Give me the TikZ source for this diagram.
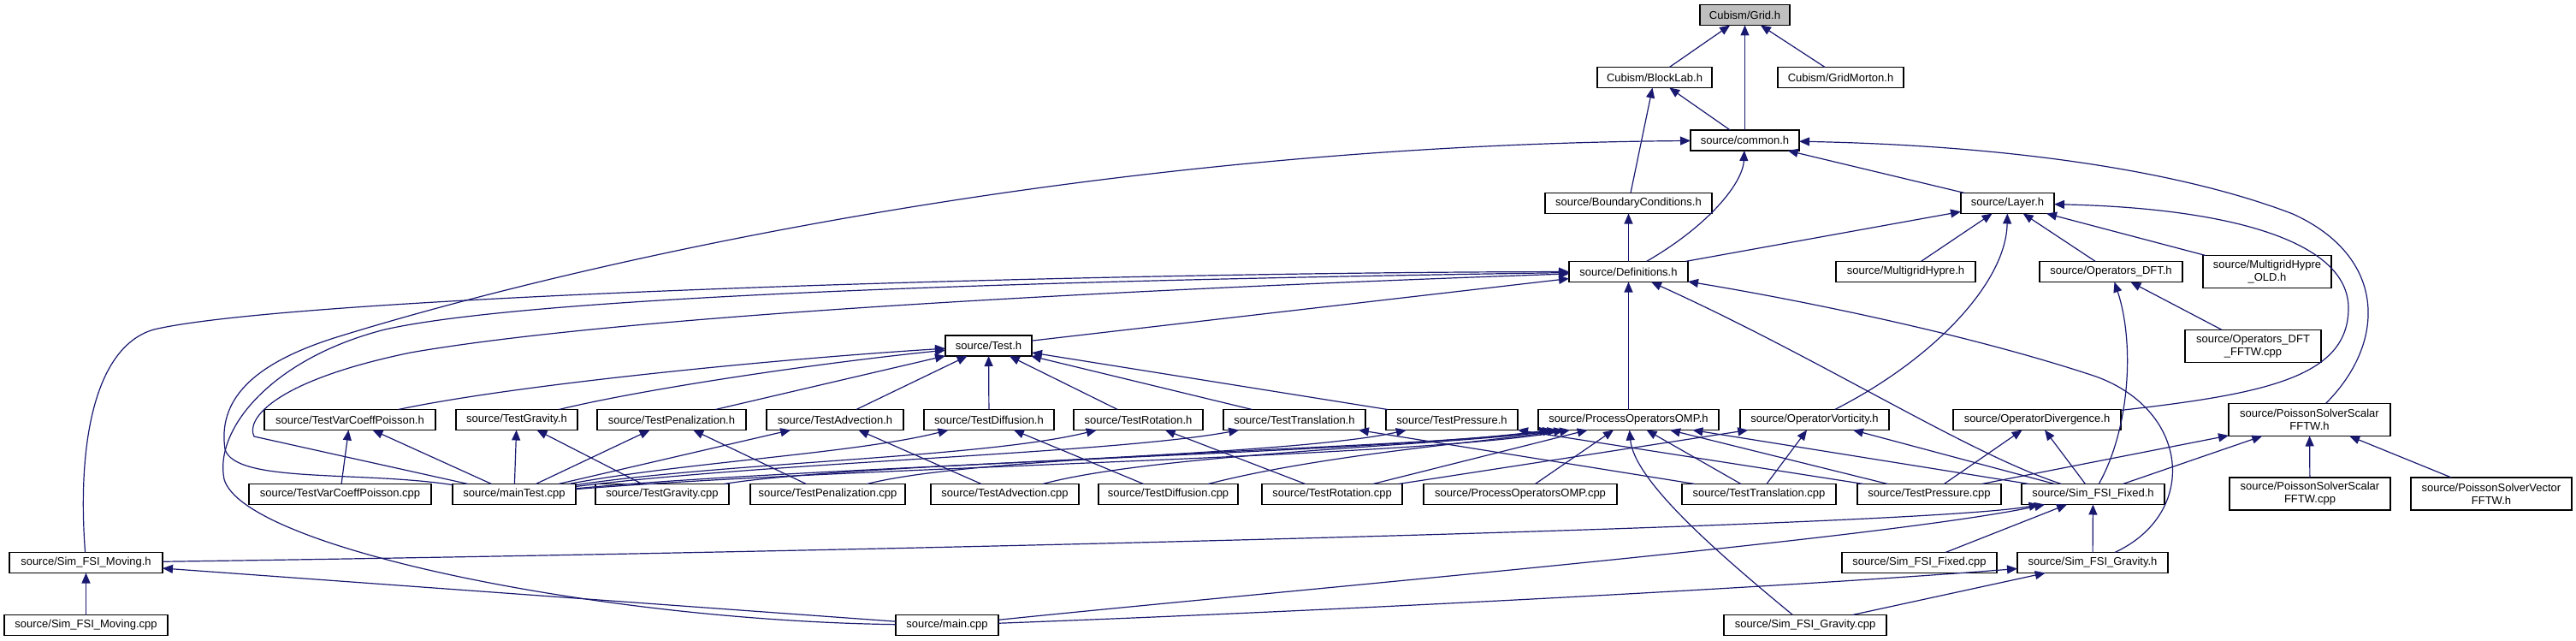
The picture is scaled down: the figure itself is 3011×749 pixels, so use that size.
\documentclass[tikz,border=0pt]{standalone}
\usepackage{fontspec}
\setmainfont{Liberation Sans}
\usetikzlibrary{arrows.meta}
\definecolor{edgecol}{RGB}{25,25,112}
\definecolor{gridfill}{RGB}{191,191,191}
\begin{document}
\begin{tikzpicture}[x=0.5pt,y=-0.5pt,
  box/.style={draw=black,line width=0.6pt,fill=white,inner sep=0pt,outer sep=0pt,align=center,
    font=\fontsize{6.5pt}{7.5pt}\selectfont,minimum height=12pt},
  tall/.style={minimum height=19pt},
  dep/.style={draw=edgecol,line width=0.6pt,-{Triangle[length=6pt,width=5pt]}}]
\useasboundingbox (0,0) rectangle (3011,749);
% row 0-5
\node[box,fill=gridfill,minimum width=52.5pt] (grid) at (2039.5,17.5) {Cubism/Grid.h};
\node[box,minimum width=67pt] (blocklab) at (1934,90.5) {Cubism/BlockLab.h};
\node[box,minimum width=73.5pt] (gridmorton) at (2151.5,90.5) {Cubism/GridMorton.h};
\node[box,minimum width=63.5pt] (common) at (2039.5,164) {source/common.h};
\node[box,minimum width=97.5pt] (boundary) at (1903.5,237.5) {source/BoundaryConditions.h};
\node[box,minimum width=54.5pt] (layer) at (2346.5,237.5) {source/Layer.h};
\node[box,minimum width=69.5pt] (defs) at (1903.5,317.5) {source/Definitions.h};
\node[box,minimum width=81.5pt] (mghypre) at (2227.5,317.5) {source/MultigridHypre.h};
\node[box,minimum width=83.5pt] (opdft) at (2467.5,317.5) {source/Operators\_DFT.h};
\node[box,tall,minimum width=75pt] (mgold) at (2650,317.5) {source/MultigridHypre\\\_OLD.h};
\node[box,minimum width=50.5pt] (test) at (1155.5,404) {source/Test.h};
\node[box,tall,minimum width=79.5pt] (opdftfftw) at (2633.5,404.5) {source/Operators\_DFT\\\_FFTW.cpp};
% row 6
\node[box,minimum width=100pt] (tvcph) at (409,490.5) {source/TestVarCoeffPoisson.h};
\node[box,minimum width=71pt] (tgravh) at (604,490.5) {source/TestGravity.h};
\node[box,minimum width=87pt] (tpenh) at (785,490.5) {source/TestPenalization.h};
\node[box,minimum width=80pt] (tadvh) at (976,490.5) {source/TestAdvection.h};
\node[box,minimum width=76pt] (tdiffh) at (1156,490.5) {source/TestDiffusion.h};
\node[box,minimum width=75.5pt] (troth) at (1330.5,490.5) {source/TestRotation.h};
\node[box,minimum width=83pt] (ttransh) at (1513,490.5) {source/TestTranslation.h};
\node[box,minimum width=77pt] (tpresh) at (1697,490.5) {source/TestPressure.h};
\node[box,minimum width=105.5pt] (procomph) at (1903.5,490.5) {source/ProcessOperatorsOMP.h};
\node[box,minimum width=87pt] (opvort) at (2121,490.5) {source/OperatorVorticity.h};
\node[box,minimum width=98pt] (opdiv) at (2381,490.5) {source/OperatorDivergence.h};
\node[box,tall,minimum width=94.5pt] (pssfh) at (2699.5,490.5) {source/PoissonSolverScalar\\FFTW.h};
% row 7
\node[box,minimum width=106.5pt] (tvcpcpp) at (397.5,577.5) {source/TestVarCoeffPoisson.cpp};
\node[box,minimum width=72pt] (maintest) at (601,577.5) {source/mainTest.cpp};
\node[box,minimum width=78pt] (tgravcpp) at (774,577.5) {source/TestGravity.cpp};
\node[box,minimum width=90.5pt] (tpencpp) at (967.5,577.5) {source/TestPenalization.cpp};
\node[box,minimum width=86.5pt] (tadvcpp) at (1174.5,577.5) {source/TestAdvection.cpp};
\node[box,minimum width=81.5pt] (tdiffcpp) at (1365.5,577.5) {source/TestDiffusion.cpp};
\node[box,minimum width=82pt] (trotcpp) at (1557,577.5) {source/TestRotation.cpp};
\node[box,minimum width=113pt] (procompcpp) at (1777,577.5) {source/ProcessOperatorsOMP.cpp};
\node[box,minimum width=90pt] (ttranscpp) at (2056,577.5) {source/TestTranslation.cpp};
\node[box,minimum width=84pt] (tprescpp) at (2255,577.5) {source/TestPressure.cpp};
\node[box,minimum width=83.5pt] (fixedh) at (2446.5,577.5) {source/Sim\_FSI\_Fixed.h};
\node[box,tall,minimum width=94pt] (pssfcpp) at (2700,577) {source/PoissonSolverScalar\\FFTW.cpp};
\node[box,tall,minimum width=94pt] (psvfh) at (2912,577) {source/PoissonSolverVector\\FFTW.h};
% row 8-9
\node[box,minimum width=89.5pt] (movingh) at (100.5,657.5) {source/Sim\_FSI\_Moving.h};
\node[box,minimum width=90.5pt] (fixedcpp) at (2243.5,657.5) {source/Sim\_FSI\_Fixed.cpp};
\node[box,minimum width=88pt] (gravityh) at (2446,657.5) {source/Sim\_FSI\_Gravity.h};
\node[box,minimum width=95.5pt] (movingcpp) at (100.5,730.5) {source/Sim\_FSI\_Moving.cpp};
\node[box,minimum width=60pt] (maincpp) at (1107,730.5) {source/main.cpp};
\node[box,minimum width=95pt] (gravitycpp) at (2110,730.5) {source/Sim\_FSI\_Gravity.cpp};

% top edges
\draw[dep] (blocklab) -- (grid);
\draw[dep] (common) -- (grid);
\draw[dep] (gridmorton) -- (grid);
\draw[dep] (common) -- (blocklab);
\draw[dep] (boundary) -- (blocklab);
\draw[dep] (defs) .. controls (1995,265) and (2037,215) .. (common);
\draw[dep] (layer) -- (common);
\draw[dep] (defs) -- (boundary);
\draw[dep] (defs) -- (layer);
\draw[dep] (mghypre) -- (layer);
\draw[dep] (opdft) -- (layer);
\draw[dep] (mgold) -- (layer);
\draw[dep] (opvort) .. controls (2260,420) and (2345,330) .. (layer);
\draw[dep] (opdiv) .. controls (2650,460) and (2745,440) .. (2745,360) .. controls (2745,280) and (2600,243) .. (layer);
\draw[dep] (pssfh) .. controls (2790,400) and (2790,300) .. (2680,250) .. controls (2550,200) and (2350,170) .. (common);
\draw[dep] (opdftfftw) -- (opdft);
\draw[dep] (fixedh) .. controls (2490,500) and (2495,400) .. (opdft);
% to Definitions
\draw[dep] (procomph) -- (defs);
\draw[dep] (fixedh) .. controls (2300,530) and (2130,420) .. (defs);
\draw[dep] (gravityh) .. controls (2570,600) and (2560,480) .. (2450,440) .. controls (2300,390) and (2100,350) .. (defs);
\draw[dep] (test) -- (defs);
\draw[dep] (movingh) .. controls (90,520) and (110,405) .. (180,385) .. controls (350,345) and (1300,318) .. (defs);
\draw[dep] (maintest) -- (297,510) .. controls (287,490) and (320,445) .. (480,412) .. controls (750,365) and (1400,335) .. (defs);
\draw[dep] (maincpp) .. controls (700,725) and (285,640) .. (262,560) .. controls (250,500) and (320,418) .. (450,385) .. controls (650,340) and (1400,325) .. (defs);
\draw[dep] (maintest) .. controls (420,550) and (275,565) .. (263,525) .. controls (255,470) and (290,425) .. (400,392) .. controls (650,315) and (1250,170) .. (common);
% to Test.h
\draw[dep] (tvcph) .. controls (600,450) and (900,420) .. (test);
\draw[dep] (tgravh) .. controls (750,455) and (950,425) .. (test);
\draw[dep] (tpenh) -- (test);
\draw[dep] (tadvh) -- (test);
\draw[dep] (tdiffh) -- (test);
\draw[dep] (troth) -- (test);
\draw[dep] (ttransh) -- (test);
\draw[dep] (tpresh) -- (test);
% row 7 to row 6
\draw[dep] (tvcpcpp) -- (tvcph);
\draw[dep] (maintest) -- (tvcph);
\draw[dep] (maintest) -- (tgravh);
\draw[dep] (tgravcpp) -- (tgravh);
\draw[dep] (maintest) -- (tpenh);
\draw[dep] (tpencpp) -- (tpenh);
\draw[dep] (maintest) -- (tadvh);
\draw[dep] (tadvcpp) -- (tadvh);
\draw[dep] (maintest) .. controls (800,540) and (1000,530) .. (tdiffh);
\draw[dep] (tdiffcpp) -- (tdiffh);
\draw[dep] (maintest) .. controls (850,540) and (1150,535) .. (troth);
\draw[dep] (trotcpp) -- (troth);
\draw[dep] (maintest) .. controls (900,540) and (1300,530) .. (ttransh);
\draw[dep] (ttranscpp) -- (ttransh);
\draw[dep] (maintest) .. controls (950,545) and (1500,535) .. (tpresh);
\draw[dep] (tprescpp) -- (tpresh);
% ProcessOperatorsOMP.h
\draw[dep] (maintest) .. controls (1000,545) and (1650,535) .. (procomph);
\draw[dep] (tgravcpp) .. controls (1000,540) and (1600,530) .. (procomph);
\draw[dep] (tpencpp) .. controls (1150,530) and (1650,525) .. (procomph);
\draw[dep] (tadvcpp) .. controls (1350,530) and (1700,520) .. (procomph);
\draw[dep] (tdiffcpp) .. controls (1550,530) and (1750,515) .. (procomph);
\draw[dep] (trotcpp) -- (procomph);
\draw[dep] (procompcpp) -- (procomph);
\draw[dep] (gravitycpp) .. controls (2000,640) and (1910,560) .. (procomph);
\draw[dep] (ttranscpp) -- (procomph);
\draw[dep] (tprescpp) -- (procomph);
\draw[dep] (fixedh) -- (procomph);
% operators
\draw[dep] (trotcpp) -- (opvort);
\draw[dep] (ttranscpp) -- (opvort);
\draw[dep] (fixedh) -- (opvort);
\draw[dep] (tprescpp) -- (opdiv);
\draw[dep] (fixedh) -- (opdiv);
\draw[dep] (tprescpp) -- (pssfh);
\draw[dep] (fixedh) -- (pssfh);
\draw[dep] (pssfcpp) -- (pssfh);
\draw[dep] (psvfh) -- (pssfh);
% Sim_FSI
\draw[dep] (movingh) .. controls (1000,645) and (2250,615) .. (fixedh);
\draw[dep] (maincpp) .. controls (1500,690) and (2200,630) .. (fixedh);
\draw[dep] (fixedcpp) -- (fixedh);
\draw[dep] (gravityh) -- (fixedh);
\draw[dep] (maincpp) .. controls (1600,712) and (2100,685) .. (gravityh);
\draw[dep] (gravitycpp) -- (gravityh);
\draw[dep] (movingcpp) -- (movingh);
\draw[dep] (maincpp) -- (movingh);
\end{tikzpicture}
\end{document}
